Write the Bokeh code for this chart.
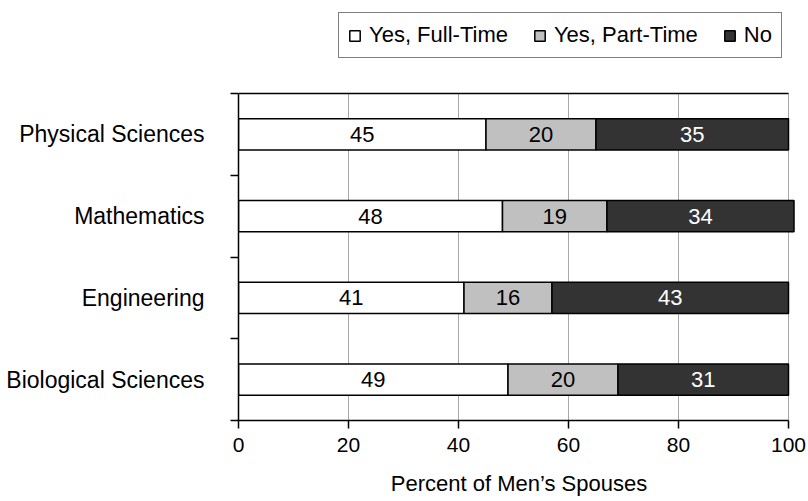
from bokeh.plotting import figure
from bokeh.models import (ColumnDataSource, Range1d, FixedTicker, Legend,
                          LegendItem)
from bokeh.core.properties import value
from bokeh.embed import file_html
from bokeh.resources import INLINE

# Share of men's spouses who work, by field
fields = ["Physical Sciences", "Mathematics", "Engineering", "Biological Sciences"]
full_time = [45, 48, 41, 49]
part_time = [20, 19, 16, 20]
no_work = [35, 34, 43, 31]
series_names = ["Yes, Full-Time", "Yes, Part-Time", "No"]
x_ticks = [0, 20, 40, 60, 80, 100]

FONT = "Liberation Sans"
fills = ["#ffffff", "#c0c0c0", "#333333"]
text_colors = ["#000000", "#000000", "#ffffff"]

n = len(fields)
ypos = [n - 0.5 - i for i in range(n)]  # first field on top

# the frame runs up to the page top so the legend can sit above the bars
BAND_PX = 81.75
FRAME_H = 420
y_top = FRAME_H / BAND_PX

source = ColumnDataSource(dict(y=ypos, full=full_time, part=part_time, no=no_work))

p = figure(width=808, height=501, output_backend="svg", toolbar_location=None,
           x_range=Range1d(0, 102), y_range=Range1d(0, y_top),
           min_border_left=238, min_border_right=9,
           min_border_top=0, min_border_bottom=81)
p.outline_line_color = None
p.background_fill_color = "white"
p.border_fill_color = "white"
p.xgrid.grid_line_color = None
p.ygrid.grid_line_color = None

# vertical gridlines over the bar area only
p.segment(x0=x_ticks[1:], x1=x_ticks[1:], y0=[0] * (len(x_ticks) - 1),
          y1=[n] * (len(x_ticks) - 1), line_color="#a8a8a8", line_width=1)

# top frame line across the value range
p.segment(x0=[x_ticks[0]], x1=[x_ticks[-1]], y0=[n], y1=[n],
          line_color="black", line_width=1.5)

renderers = p.hbar_stack(["full", "part", "no"], y="y", height=0.38,
                         fill_color=fills, line_color="black", line_width=1.5,
                         source=source)

# value labels centred in each segment
lx, ly, lt, lc = [], [], [], []
for i in range(n):
    left = 0
    for vals, col in zip([full_time, part_time, no_work], text_colors):
        v = vals[i]
        lx.append(left + v / 2)
        ly.append(ypos[i])
        lt.append(str(v))
        lc.append(col)
        left += v
p.text(x=lx, y=ly, text=lt, text_color=lc, text_align="center",
       text_baseline="middle", text_font=value(FONT), text_font_size="22px")

# x axis
xa = p.xaxis[0]
xa.ticker = FixedTicker(ticks=x_ticks)
xa.bounds = (x_ticks[0], x_ticks[-1])
xa.axis_label = "Percent of Men\u2019s Spouses"
xa.axis_label_text_font = FONT
xa.axis_label_text_font_size = "22px"
xa.axis_label_text_font_style = "normal"
xa.axis_label_text_color = "black"
xa.axis_label_standoff = 16
xa.major_label_text_font = FONT
xa.major_label_text_font_size = "21px"
xa.major_label_text_color = "black"
xa.major_label_standoff = 9
xa.major_tick_out = 8
xa.major_tick_in = 0
xa.minor_tick_out = 0
xa.minor_tick_in = 0
xa.axis_line_width = 1.5
xa.major_tick_line_width = 1.5

# y axis: names at band centres, ticks at band boundaries
ya = p.yaxis[0]
ya.bounds = (0, n)
ya.ticker = FixedTicker(ticks=ypos, minor_ticks=list(range(n + 1)))
ya.major_label_overrides = {y: name for y, name in zip(ypos, fields)}
ya.major_label_text_font = FONT
ya.major_label_text_font_size = "23px"
ya.major_label_text_color = "black"
ya.major_label_standoff = 26
ya.major_tick_out = 0
ya.major_tick_in = 0
ya.minor_tick_out = 8
ya.minor_tick_in = 0
ya.minor_tick_line_color = "black"
ya.minor_tick_line_width = 1.5
ya.axis_line_width = 1.5

legend = Legend(
    items=[LegendItem(label=name, renderers=[r]) for name, r in zip(series_names, renderers)],
    orientation="horizontal", location=(100, 362),
    border_line_color="black", border_line_width=1.5,
    glyph_width=13, glyph_height=13, label_standoff=8, spacing=25,
    padding=9, margin=0, label_text_font=FONT, label_text_font_size="22px",
    label_text_color="black", background_fill_alpha=1.0,
)
p.add_layout(legend, "center")

open("out.html", "w").write(file_html(p, INLINE))
